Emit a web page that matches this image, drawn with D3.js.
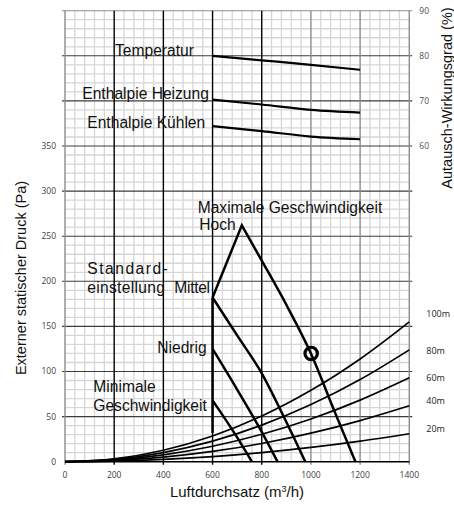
<!DOCTYPE html>
<html><head><meta charset="utf-8">
<script src="https://cdn.jsdelivr.net/npm/d3@7"></script>
<style>body{margin:0;background:#fff}svg{display:block}</style>
</head><body>
<script>
// ---- data ----
const flowTicks = [0, 200, 400, 600, 800, 1000, 1200, 1400];
const pressureTicks = [0, 50, 100, 150, 200, 250, 300, 350];
const efficiencyTicks = [60, 70, 80, 90];

// efficiency curves (right axis, %)
const effFlow = [600, 800, 1000, 1200];
const temperatur = [80.0, 79.0, 78.0, 76.9];
const enthalpieHeizung = [70.3, 69.2, 68.0, 67.4];
const enthalpieKuehlen = [64.4, 63.3, 62.1, 61.5];

// fan curves (left axis, Pa)
const hochRiseFlow = [600, 719];
const hochRisePressure = [182, 262];
const hochFallFlow = [719, 800, 900, 1000, 1100, 1181];
const hochFallPressure = [262, 223, 174, 120, 53, 0];
const mittelFlow = [600, 700, 800, 900, 977];
const mittelPressure = [182, 140, 98, 44, 0];
const niedrigFlow = [600, 700, 800, 864];
const niedrigPressure = [125, 80, 33, 0];
const minimaleFlow = [600, 700, 760];
const minimalePressure = [68, 27, 0];
const standardFlow = [600, 600];
const standardPressure = [182, 32];

// duct system curves (left axis, Pa)
const ductFlow = [0, 200, 400, 600, 800, 1000, 1200, 1400];
const duct100m = [0, 3.2, 12.7, 28.5, 50.6, 79.1, 113.9, 155];
const duct80m = [0, 2.5, 10.1, 22.8, 40.5, 63.3, 91.1, 124];
const duct60m = [0, 1.9, 7.6, 17.1, 30.4, 47.4, 68.3, 93];
const duct40m = [0, 1.3, 5.1, 11.4, 20.2, 31.6, 45.6, 62];
const duct20m = [0, 0.6, 2.5, 5.7, 10.1, 15.8, 22.8, 31];
const ductLabels = ["100m", "80m", "60m", "40m", "20m"];
const ductLabelPressure = [164, 123, 93, 67, 36];

// operating point
const pointFlow = [1001];
const pointPressure = [120];

// ---- chart ----
const W = 454, H = 505;
const L = 65, R = 409.3, T = 10.7, B = 461.7;
const svg = d3.select("body").append("svg").attr("width", W).attr("height", H);

const x = d3.scaleLinear().domain([0, 1400]).range([L, R]);
const y = d3.scaleLinear().domain([0, 500]).range([B, T]);
const y2 = d3.scaleLinear().domain([-10, 90]).range([B, T]);

const small = "'Open Sans', sans-serif";
const big = "'Liberation Sans', Arial, sans-serif";

// minor grid
const g = svg.append("g");
g.selectAll(".mx").data(d3.range(0, 1401, 40).filter(v => v % 200 !== 0))
  .join("line").attr("x1", d => x(d)).attr("x2", d => x(d)).attr("y1", T).attr("y2", B)
  .attr("stroke", "#d6d6d6").attr("stroke-width", 1.3);
g.selectAll(".my").data(d3.range(0, 501, 10).filter(v => v % 50 !== 0))
  .join("line").attr("y1", d => y(d)).attr("y2", d => y(d)).attr("x1", L).attr("x2", R)
  .attr("stroke", "#d6d6d6").attr("stroke-width", 1.3);

// major horizontal
g.selectAll(".My").data(d3.range(50, 501, 50))
  .join("line").attr("y1", d => y(d)).attr("y2", d => y(d)).attr("x1", L - 3).attr("x2", R + 3)
  .attr("stroke", d => d === 500 ? "#8c8c8c" : "#3c3c3c").attr("stroke-width", 1.1);

// major vertical
g.selectAll(".Mx").data(flowTicks)
  .join("line").attr("x1", d => x(d)).attr("x2", d => x(d)).attr("y1", T).attr("y2", B + 3)
  .attr("stroke", d => (d === 0 || d >= 1000) ? "#8c8c8c" : "#000").attr("stroke-width", 1.4);

// x axis line
g.append("line").attr("x1", L).attr("x2", R).attr("y1", B).attr("y2", B)
  .attr("stroke", "#000").attr("stroke-width", 1.4);

// tick labels
svg.append("g").selectAll("text").data(pressureTicks).join("text")
  .attr("x", L - 9).attr("y", d => y(d)).attr("dy", "0.35em").attr("text-anchor", "end")
  .attr("font-family", small).attr("font-size", 8.5).attr("fill", "#404040").text(d => d);
svg.append("g").selectAll("text").data(flowTicks).join("text")
  .attr("x", d => x(d)).attr("y", B + 16).attr("text-anchor", "middle")
  .attr("font-family", small).attr("font-size", 8.5).attr("fill", "#404040").text(d => d);
svg.append("g").selectAll("text").data(efficiencyTicks).join("text")
  .attr("x", R + 10).attr("y", d => y2(d)).attr("dy", "0.35em").attr("text-anchor", "start")
  .attr("font-family", small).attr("font-size", 8.5).attr("fill", "#505050").text(d => d);

// axis titles
svg.append("text").attr("x", 237).attr("y", 497).attr("text-anchor", "middle")
  .attr("font-family", big).attr("font-size", 15).attr("fill", "#111")
  .html("Luftdurchsatz (m<tspan dy='-5' font-size='9'>3</tspan><tspan dy='5'>/h)</tspan>");
svg.append("text").attr("transform", "translate(26,278) rotate(-90)").attr("text-anchor", "middle")
  .attr("font-family", big).attr("font-size", 14.5).attr("fill", "#111").text("Externer statischer Druck (Pa)");
svg.append("text").attr("transform", "translate(452,98) rotate(-90)").attr("text-anchor", "middle")
  .attr("font-family", big).attr("font-size", 14.5).attr("fill", "#111").text("Autausch-Wirkungsgrad (%)");

// duct curves
const ductLine = d3.line().x(d => x(d[0])).y(d => y(d[1])).curve(d3.curveCatmullRom);
[duct100m, duct80m, duct60m, duct40m, duct20m].forEach((arr, i) => {
  svg.append("path").attr("d", ductLine(ductFlow.map((f, j) => [f, arr[j]])))
    .attr("fill", "none").attr("stroke", "#000").attr("stroke-width", 1.7);
  svg.append("text").attr("x", R + 17).attr("y", y(ductLabelPressure[i]))
    .attr("dy", "0.35em").attr("font-family", small).attr("font-size", 9).attr("fill", "#222")
    .text(ductLabels[i]);
});

// efficiency curves
const effLine = d3.line().x(d => x(d[0])).y(d => y2(d[1])).curve(d3.curveMonotoneX);
[temperatur, enthalpieHeizung, enthalpieKuehlen].forEach(arr => {
  svg.append("path").attr("d", effLine(effFlow.map((f, j) => [f, arr[j]])))
    .attr("fill", "none").attr("stroke", "#000").attr("stroke-width", 2.2);
});

// fan curves
const linLine = d3.line().x(d => x(d[0])).y(d => y(d[1]));
const smoothLine = d3.line().x(d => x(d[0])).y(d => y(d[1])).curve(d3.curveMonotoneX);
const zip = (a, b) => a.map((v, j) => [v, b[j]]);
const fanStyle = p => p.attr("fill", "none").attr("stroke", "#000").attr("stroke-width", 2.5)
  .attr("stroke-linejoin", "miter").attr("stroke-miterlimit", 10);

// Hoch: straight rise to the peak, smooth fall
const hochD = linLine(zip(hochRiseFlow, hochRisePressure)) +
  smoothLine(zip(hochFallFlow, hochFallPressure)).replace(/^M/, "L");
fanStyle(svg.append("path").attr("d", hochD));
[[mittelFlow, mittelPressure], [niedrigFlow, niedrigPressure], [minimaleFlow, minimalePressure]]
  .forEach(([fx, fy]) => fanStyle(svg.append("path").attr("d", smoothLine(zip(fx, fy)))));
fanStyle(svg.append("path").attr("d", linLine(zip(standardFlow, standardPressure))));

// operating point
svg.selectAll(".pt").data(pointFlow).join("circle")
  .attr("cx", d => x(d)).attr("cy", (d, i) => y(pointPressure[i])).attr("r", 6.2)
  .attr("fill", "none").attr("stroke", "#000").attr("stroke-width", 3.2);

// labels
const labels = [
  ["Temperatur", 115, 55.7, 0],
  ["Enthalpie Heizung", 82.3, 99, 0],
  ["Enthalpie Kühlen", 87.3, 128.3, 0],
  ["Maximale Geschwindigkeit", 197.7, 213.3, 0],
  ["Hoch", 199.3, 230, 0],
  ["Standard-", 87.3, 274.3, 1.5],
  ["einstellung", 87.3, 293, 0.3],
  ["Mittel", 174.3, 292.7, -0.3],
  ["Niedrig", 157.3, 353.3, 0],
  ["Minimale", 93.3, 392.3, 0],
  ["Geschwindigkeit", 93.3, 410.7, 0]
];
svg.append("g").selectAll("text").data(labels).join("text")
  .attr("x", d => d[1]).attr("y", d => d[2]).attr("letter-spacing", d => d[3])
  .attr("font-family", big).attr("font-size", 15.6).attr("fill", "#111").text(d => d[0]);
</script>
</body></html>
